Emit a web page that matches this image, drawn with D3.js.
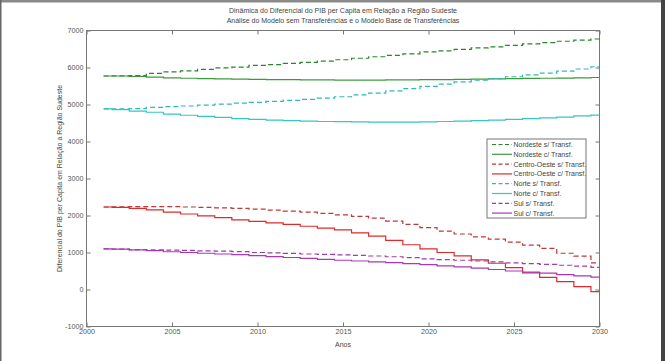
<!DOCTYPE html>
<html>
<head>
<meta charset="utf-8">
<script src="https://cdn.jsdelivr.net/npm/d3@7"></script>
<style>
  body { margin: 0; background: #fff; }
  svg { display: block; font-family: "Liberation Sans", Arial, sans-serif; }
  .axis text { fill: #555; font-size: 7.2px; }
  .axis path, .axis line { stroke: #777; }
</style>
</head>
<body>
<div class="chart"></div>
<script>
/////////////
// DATA    //
/////////////

var years = d3.range(2001, 2031);

var nordesteSem = [5770, 5775, 5780, 5840, 5880, 5910, 5950, 5990, 6010, 6060,
    6080, 6110, 6140, 6170, 6210, 6250, 6290, 6330, 6370, 6420,
    6450, 6490, 6530, 6560, 6600, 6640, 6670, 6710, 6740, 6770];
var nordesteCom = [5770, 5770, 5760, 5740, 5720, 5710, 5700, 5690, 5685, 5680,
    5675, 5670, 5665, 5665, 5660, 5660, 5660, 5665, 5665, 5670,
    5675, 5680, 5685, 5690, 5700, 5705, 5710, 5715, 5720, 5730];
var centroSem = [2230, 2235, 2240, 2240, 2240, 2230, 2220, 2205, 2190, 2170,
    2145, 2120, 2090, 2055, 2015, 1975, 1930, 1850, 1760, 1670,
    1580, 1500, 1420, 1360, 1280, 1200, 1110, 980, 900, 720];
var centroCom = [2230, 2220, 2190, 2150, 2090, 2040, 1990, 1940, 1880, 1840,
    1800, 1760, 1710, 1660, 1610, 1530, 1440, 1330, 1210, 1100,
    1000, 910, 800, 710, 590, 450, 330, 215, 80, -60];
var norteSem = [4880, 4885, 4890, 4920, 4940, 4960, 4985, 5010, 5035, 5060,
    5085, 5110, 5140, 5170, 5210, 5260, 5310, 5370, 5430, 5490,
    5550, 5610, 5660, 5700, 5750, 5800, 5850, 5900, 5960, 6020];
var norteCom = [4880, 4860, 4820, 4790, 4740, 4710, 4680, 4650, 4620, 4600,
    4580, 4565, 4550, 4540, 4535, 4530, 4525, 4525, 4525, 4530,
    4540, 4550, 4565, 4580, 4600, 4620, 4640, 4660, 4690, 4715];
var sulSem = [1100, 1090, 1080, 1075, 1065, 1055, 1045, 1035, 1025, 1000,
    990, 975, 960, 950, 935, 920, 905, 885, 860, 830,
    810, 790, 770, 745, 720, 700, 680, 655, 630, 600];
var sulCom = [1100, 1090, 1070, 1050, 1020, 1000, 980, 960, 940, 915,
    890, 865, 840, 815, 790, 770, 745, 725, 700, 670,
    640, 610, 580, 540, 500, 470, 440, 400, 370, 335];

var seriesNames = ["Nordeste s/ Transf.", "Nordeste c/ Transf.",
    "Centro-Oeste s/ Transf.", "Centro-Oeste c/ Transf.",
    "Norte s/ Transf.", "Norte c/ Transf.",
    "Sul s/ Transf.", "Sul c/ Transf."];
var seriesValues = [nordesteSem, nordesteCom, centroSem, centroCom,
    norteSem, norteCom, sulSem, sulCom];
var seriesColors = ["#2a852a", "#3c9a3c", "#c03838", "#e02a2a",
    "#30b8b8", "#34c8c0", "#a03ca8", "#a838b8"];
var seriesDashed = [true, false, true, false, true, false, true, false];

var xTicks = [2000, 2005, 2010, 2015, 2020, 2025, 2030];
var yTicks = [-1000, 0, 1000, 2000, 3000, 4000, 5000, 6000, 7000];

var titleLines = ["Dinâmica do Diferencial do PIB per Capita em Relação a Região Sudeste",
    "Análise do Modelo sem Transferências e o Modelo Base de Transferências"];

////////////////
// DIMENSIONS //
////////////////

var W = 665, H = 361;
var plotL = 86.5, plotR = 599.5, plotT = 30.5, plotB = 326.5;

var svg = d3.select('.chart')
    .append('svg')
    .attr('width', W)
    .attr('height', H);

// dark frame round the picture
svg.append('rect').attr('x', 0).attr('y', 0).attr('width', W).attr('height', 2.5).attr('fill', '#8a8a8a');
svg.append('rect').attr('x', 0).attr('y', 0).attr('width', 1.5).attr('height', H).attr('fill', '#666');
svg.append('rect').attr('x', 661).attr('y', 0).attr('width', 4).attr('height', H).attr('fill', '#444');

////////////
// SCALES //
////////////

var xScale = d3.scaleLinear().domain([2000, 2030]).range([plotL, plotR]);
var yScale = d3.scaleLinear().domain([-1000, 7000]).range([plotB, plotT]);

//////////
// AXIS //
//////////

function styleAxis(g) {
    g.select('.domain').remove();
}

var fmt = function(d) { return String(d); };

svg.append('g')
    .attr('class', 'axis')
    .attr('transform', 'translate(0,' + plotB + ')')
    .call(d3.axisBottom(xScale).tickValues(xTicks).tickFormat(fmt).tickSizeInner(-4).tickSizeOuter(0).tickPadding(2.5))
    .call(styleAxis);

svg.append('g')
    .attr('class', 'axis')
    .attr('transform', 'translate(0,' + plotT + ')')
    .call(d3.axisTop(xScale).tickValues(xTicks).tickFormat('').tickSizeInner(-4).tickSizeOuter(0))
    .call(styleAxis);

svg.append('g')
    .attr('class', 'axis')
    .attr('transform', 'translate(' + plotL + ',0)')
    .call(d3.axisLeft(yScale).tickValues(yTicks).tickFormat(fmt).tickSizeInner(-4).tickSizeOuter(0).tickPadding(3))
    .call(styleAxis);

svg.append('g')
    .attr('class', 'axis')
    .attr('transform', 'translate(' + plotR + ',0)')
    .call(d3.axisRight(yScale).tickValues(yTicks).tickFormat('').tickSizeInner(-4).tickSizeOuter(0))
    .call(styleAxis);

svg.append('rect')
    .attr('x', plotL).attr('y', plotT)
    .attr('width', plotR - plotL).attr('height', plotB - plotT)
    .attr('fill', 'none').attr('stroke', '#777');

///////////
// LINES //
///////////

var line = d3.line()
    .x(function(d) { return xScale(d[0]); })
    .y(function(d) { return yScale(d[1]); })
    .curve(d3.curveStep);

seriesValues.forEach(function(vals, i) {
    var pts = years.map(function(y, j) { return [y, vals[j]]; });
    svg.append('path')
        .datum(pts)
        .attr('d', line)
        .attr('fill', 'none')
        .attr('stroke', seriesColors[i])
        .attr('stroke-width', 1.2)
        .attr('stroke-dasharray', seriesDashed[i] ? '5,3' : null);
});

////////////
// LEGEND //
////////////

var lg = svg.append('g').attr('transform', 'translate(487,139)');
lg.append('rect')
    .attr('width', 99).attr('height', 79)
    .attr('fill', '#fff').attr('stroke', '#777');

seriesNames.forEach(function(name, i) {
    var yy = 5.5 + i * 9.8;
    lg.append('line')
        .attr('x1', 5).attr('x2', 25).attr('y1', yy).attr('y2', yy)
        .attr('stroke', seriesColors[i]).attr('stroke-width', 1.2)
        .attr('stroke-dasharray', seriesDashed[i] ? '4,2.5' : null);
    lg.append('text')
        .attr('x', 26.5).attr('y', yy + 2.5)
        .attr('font-size', 7).attr('fill', '#444')
        .text(name);
});

///////////
// TEXTS //
///////////

titleLines.forEach(function(t, i) {
    svg.append('text')
        .attr('x', (plotL + plotR) / 2).attr('y', 13 + i * 9.5)
        .attr('text-anchor', 'middle')
        .attr('font-size', 7).attr('fill', '#444')
        .text(t);
});

svg.append('text')
    .attr('x', (plotL + plotR) / 2).attr('y', 347)
    .attr('text-anchor', 'middle')
    .attr('font-size', 7).attr('fill', '#444')
    .text('Anos');

svg.append('text')
    .attr('transform', 'translate(62,' + ((plotT + plotB) / 2) + ') rotate(-90)')
    .attr('text-anchor', 'middle')
    .attr('font-size', 7).attr('fill', '#444')
    .text('Diferencial do PIB per Capita em Relação a Região Sudeste');
</script>
</body>
</html>
